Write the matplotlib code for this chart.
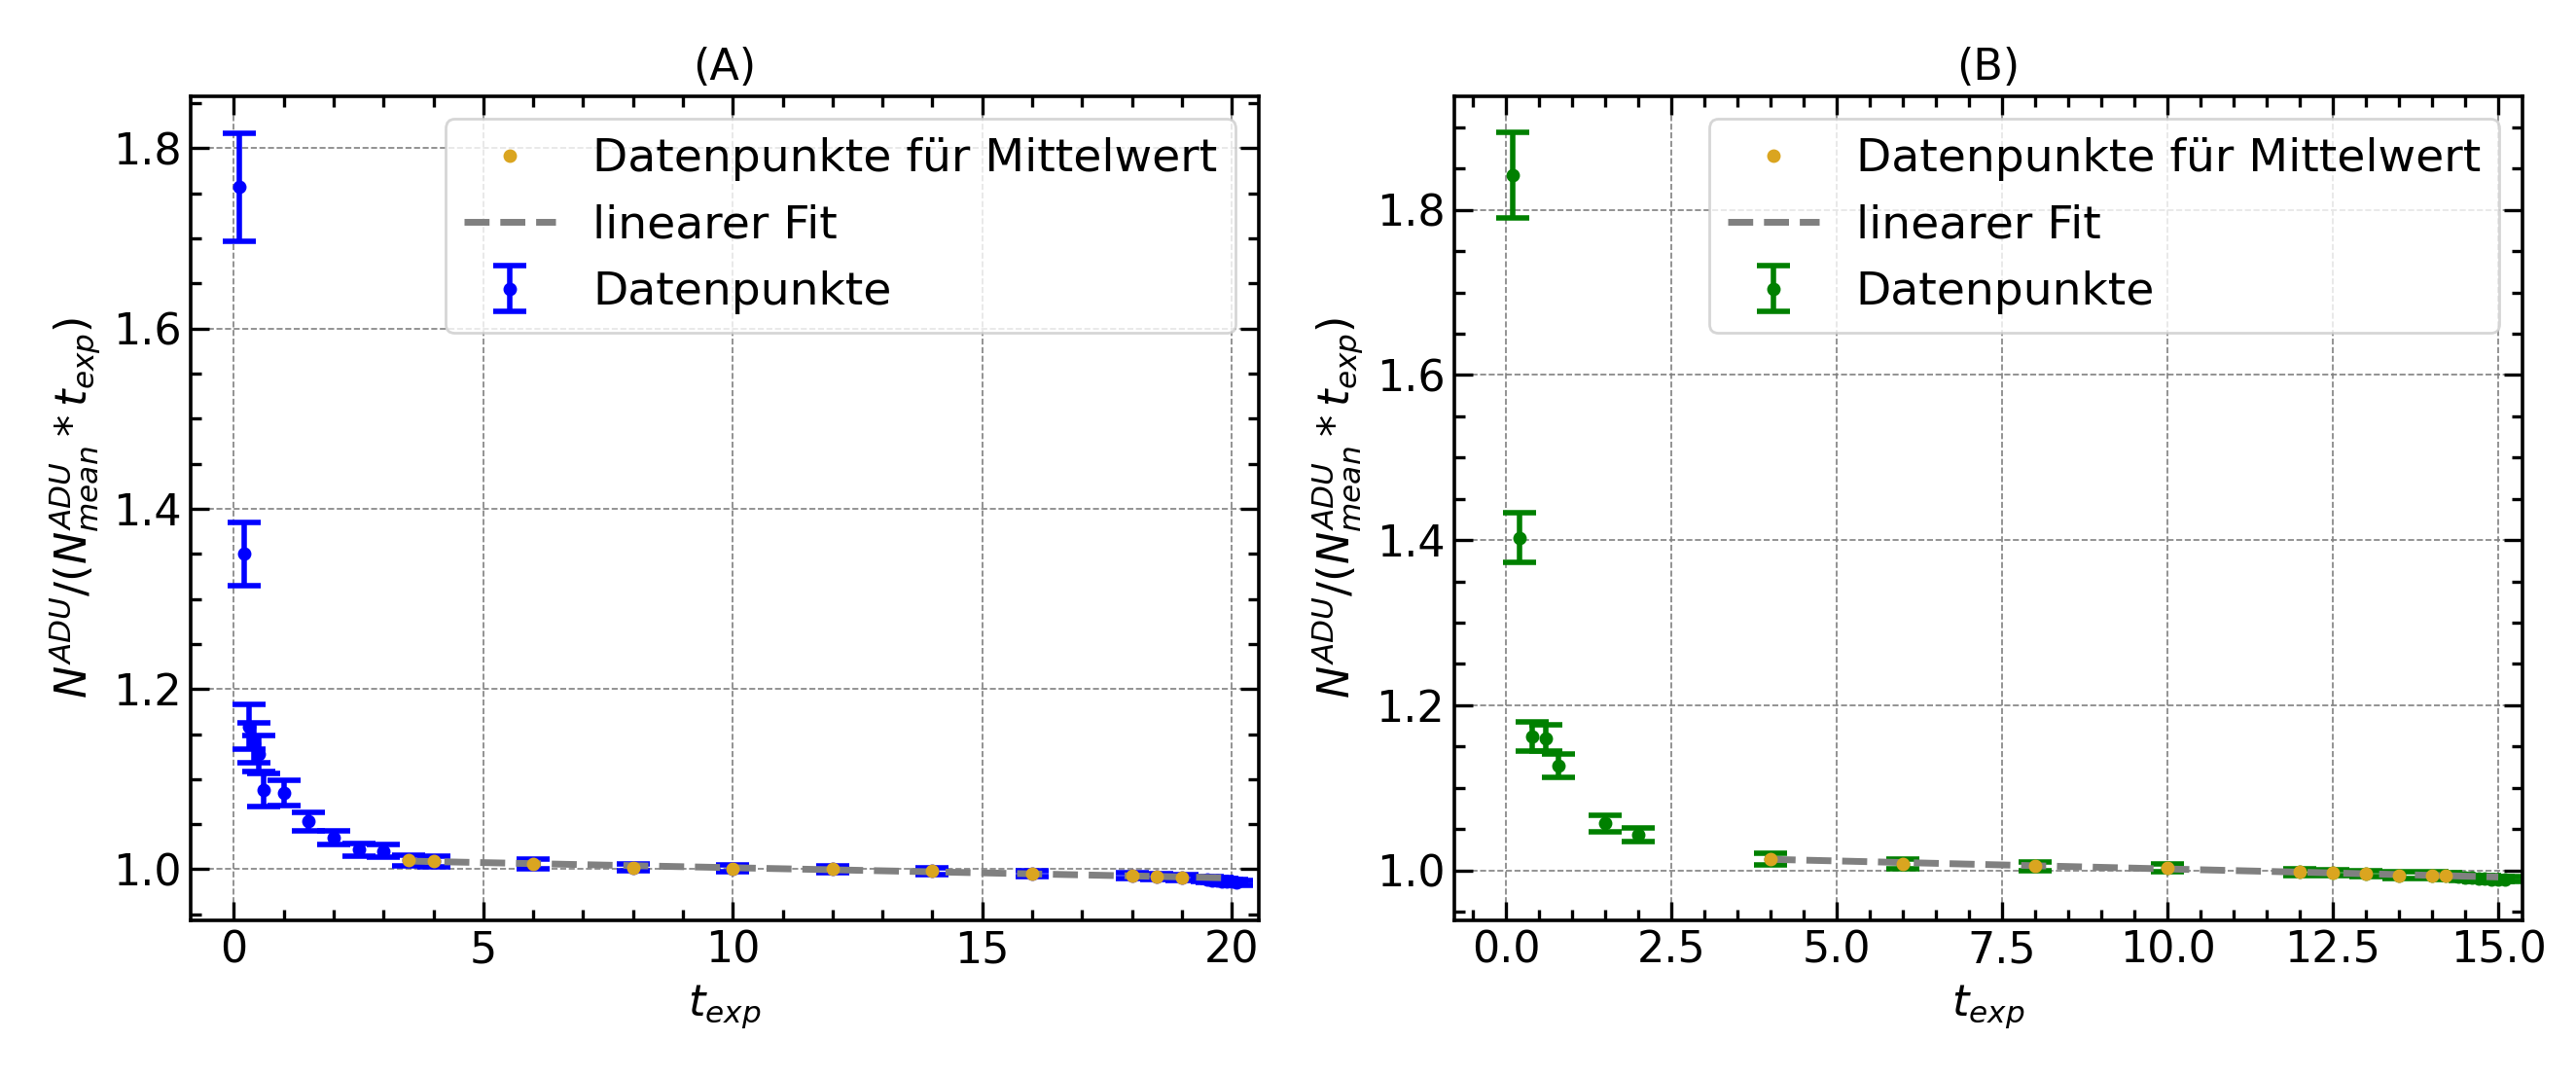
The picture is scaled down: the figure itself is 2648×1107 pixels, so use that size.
import matplotlib.pyplot as plt
import numpy as np

# --- Daten (A) ---
t_a = [0.1, 0.2, 0.3, 0.4, 0.5, 0.6, 1.0, 1.5, 2.0, 2.5, 3.0, 3.5, 4.0, 6.0, 8.0, 10.0,
       12.0, 14.0, 16.0, 18.0, 18.5, 19.0, 19.5, 19.6, 19.7, 19.8, 19.9, 20.0, 20.1]
n_a = [1.757, 1.350, 1.158, 1.140, 1.128, 1.088, 1.085, 1.053, 1.035, 1.022, 1.020, 1.010,
       1.009, 1.006, 1.002, 1.001, 1.000, 0.998, 0.995, 0.993, 0.992, 0.991, 0.989, 0.988,
       0.988, 0.987, 0.986, 0.986, 0.985]
e_a = [0.060, 0.035, 0.025, 0.022, 0.020, 0.018, 0.014, 0.010, 0.008, 0.007, 0.007, 0.006,
       0.006, 0.005, 0.004, 0.004, 0.004, 0.004, 0.003, 0.003, 0.003, 0.003, 0.003, 0.003,
       0.003, 0.003, 0.003, 0.003, 0.003]
mean_a = slice(11, 22)

# --- Daten (B) ---
t_b = [0.1, 0.2, 0.4, 0.6, 0.8, 1.5, 2.0, 4.0, 6.0, 8.0, 10.0, 12.0, 12.5, 13.0, 13.5,
       14.0, 14.2, 14.4, 14.5, 14.6, 14.7, 14.8, 14.9, 15.0, 15.1]
n_b = [1.842, 1.403, 1.162, 1.160, 1.127, 1.057, 1.043, 1.014, 1.008, 1.005, 1.003, 0.998,
       0.997, 0.996, 0.994, 0.994, 0.993, 0.992, 0.991, 0.991, 0.990, 0.990, 0.989, 0.989, 0.989]
e_b = [0.052, 0.030, 0.018, 0.016, 0.014, 0.010, 0.008, 0.007, 0.006, 0.005, 0.005, 0.004,
       0.004, 0.004, 0.004, 0.004, 0.004, 0.003, 0.003, 0.003, 0.003, 0.003, 0.003, 0.003, 0.003]
mean_b = slice(7, 17)

ORANGE = '#DAA520'
plt.rcParams['font.size'] = 16

fig, axes = plt.subplots(1, 2, figsize=(13.24, 5.535), dpi=200)

panels = [
    (axes[0], t_a, n_a, e_a, mean_a, 'blue', '(A)', (-0.86, 20.54), (0.943, 1.858), 3.5, 20.0),
    (axes[1], t_b, n_b, e_b, mean_b, 'green', '(B)', (-0.78, 15.36), (0.939, 1.938), 4.0, 15.0),
]

for ax, t, n, e, sel, col, titel, xl, yl, x0, x1 in panels:
    t = np.array(t); n = np.array(n); e = np.array(e)
    ax.plot(t[sel], n[sel], 'o', color=ORANGE, ms=4, label='Datenpunkte für Mittelwert', zorder=4)
    p = np.polyfit(t[sel], n[sel], 1)
    xf = np.linspace(x0, x1, 50)
    ax.plot(xf, np.polyval(p, xf), '--', color='grey', lw=2.5, label='linearer Fit', zorder=3)
    ax.errorbar(t, n, yerr=e, fmt='o', color=col, ms=4, capsize=6, elinewidth=2,
                capthick=2, label='Datenpunkte', zorder=2)

    ax.set_xlim(*xl)
    ax.set_ylim(*yl)
    ax.set_title(titel, fontsize=16)
    ax.set_xlabel(r'$t_{exp}$')
    ax.set_ylabel(r'$N^{ADU}/(N^{ADU}_{mean} * t_{exp})$')
    ax.grid(True, linestyle='--', color='grey', lw=0.6)
    ax.minorticks_on()
    ax.tick_params(which='both', direction='in', top=True, right=True, width=1.2)
    ax.tick_params(which='major', length=7)
    ax.tick_params(which='minor', length=4)
    for s in ax.spines.values():
        s.set_linewidth(1.3)
    ax.legend(loc='upper right', fontsize=17)

fig.tight_layout()
plt.savefig('out.png')
